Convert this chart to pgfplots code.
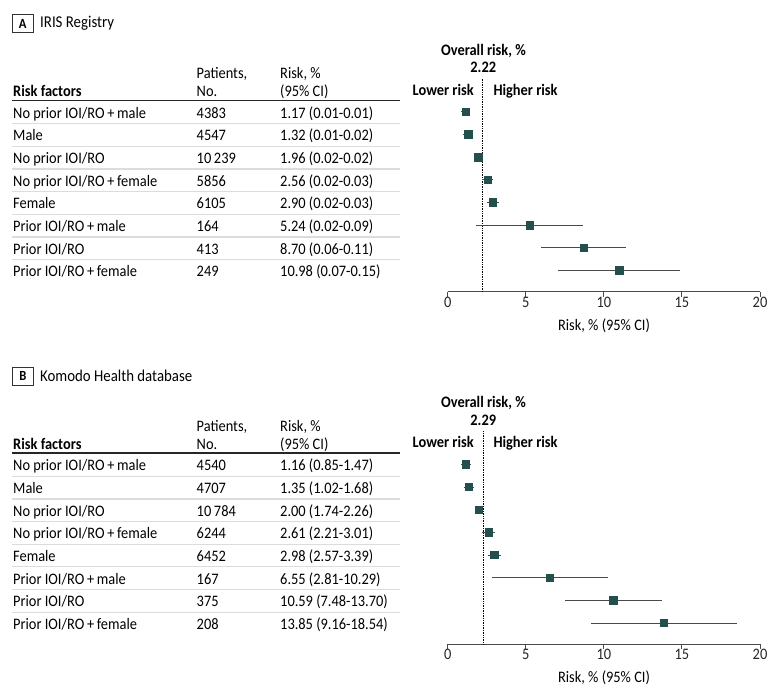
\documentclass[border=0pt]{standalone}
\usepackage{pgfplots}
\pgfplotsset{compat=1.18}
\usepackage{pgfplotstable}
\usepackage{fontspec}
\setmainfont{Carlito}[FakeStretch=0.9]
\setsansfont{Carlito}[FakeStretch=0.9]

\definecolor{sq}{HTML}{23504D}
\definecolor{wh}{HTML}{4A4A4A}
\definecolor{sepc}{HTML}{DDDDD8}

% row: y (9 - row), risk, lower, upper
\pgfplotstableread{
y x lo hi
8 1.17 0.85 1.45
7 1.32 1.00 1.62
6 1.96 1.75 2.20
5 2.56 2.18 2.93
4 2.90 2.50 3.29
3 5.24 1.80 8.65
2 8.70 6.00 11.43
1 10.98 7.09 14.90
}\dataA

\pgfplotstableread{
y x lo hi
8 1.16 0.85 1.47
7 1.35 1.02 1.68
6 2.00 1.74 2.26
5 2.61 2.21 3.01
4 2.98 2.57 3.39
3 6.55 2.81 10.29
2 10.59 7.48 13.70
1 13.85 9.16 18.54
}\dataB

\newcommand\nfs{\fontsize{16}{18}\selectfont}
\newcommand\bfs{\bfseries\fontsize{16}{18}\selectfont}

\pgfplotsset{forest/.style={
  scale only axis, width=312.3pt, height=214pt,
  anchor=south west,
  xmin=0, xmax=20, ymin=0.06, ymax=9.5,
  axis x line=bottom, axis y line=none,
  x axis line style={-, color=wh, line width=0.9pt},
  xtick={0,5,10,15,20}, ytick=\empty,
  tick align=outside, major tick length=5pt,
  x tick style={color=wh, line width=0.9pt},
  xticklabel style={font=\nfs, text=black!85},
  /pgf/number format/assume math mode=true,
  clip=false,
}}

\newcommand\ior{IOI/RO}
\newcommand\row[4]{%
  \node[anchor=base west] at (13,{118.3+(#1-1)*22.66}) {#2};
  \node[anchor=base west] at (196.5,{118.3+(#1-1)*22.66}) {#3};
  \node[anchor=base west] at (280,{118.3+(#1-1)*22.66}) {#4};}

\newcommand\header[3]{%
  \node[draw=black!80, line width=0.8pt, minimum width=21pt, minimum height=18pt, inner sep=0pt, font=\bfseries\fontsize{14}{16}\selectfont] at (22.8,23.5) {#1};
  \node[anchor=west, font=\fontsize{16.5}{18}\selectfont] at (40,23.5) {#2};
  \node[anchor=base west,font=\bfs] at (13,96.5) {Risk factors};
  \node[anchor=base west] at (196.5,78.7) {Patients,};
  \node[anchor=base west] at (196.5,96.5) {No.};
  \node[anchor=base west] at (280,78.7) {Risk, \%};
  \node[anchor=base west] at (280,96.5) {(95\% CI)};
  \draw[line width=1.5pt, black!85] (12,100.3) -- (400,100.3);
  \foreach \i in {1,...,7} \draw[sepc, line width=1.3pt] (12,{123.6+(\i-1)*22.66}) -- (400,{123.6+(\i-1)*22.66});
  \node[anchor=base, font=\bfs] at (483.5,55) {Overall risk, \%};
  \node[anchor=base, font=\bfs] at (483.3,72.7) {#3};
  \node[anchor=base east, font=\bfs] at (474,95) {Lower risk};
  \node[anchor=base west, font=\bfs] at (493.3,95) {Higher risk};
  \node[anchor=base] at (604,330) {Risk, \% (95\% CI)};}

\begin{document}
\begin{tikzpicture}[font=\nfs, every node/.style={inner sep=0pt}]
\begin{scope}[x=1pt,y=-1pt]
  \fill[white] (0,0) rectangle (780,697);
  \path[use as bounding box] (0,0) rectangle (780,697);
\end{scope}

% ---------- Panel A ----------
\begin{scope}[x=1pt,y=-1pt]
  \header{A}{IRIS Registry}{2.22}
  \row{1}{No prior \ior\,+\,male}{4383}{1.17 (0.01-0.01)}
  \row{2}{Male}{4547}{1.32 (0.01-0.02)}
  \row{3}{No prior \ior}{10\,239}{1.96 (0.02-0.02)}
  \row{4}{No prior \ior\,+\,female}{5856}{2.56 (0.02-0.03)}
  \row{5}{Female}{6105}{2.90 (0.02-0.03)}
  \row{6}{Prior \ior\,+\,male}{164}{5.24 (0.02-0.09)}
  \row{7}{Prior \ior}{413}{8.70 (0.06-0.11)}
  \row{8}{Prior \ior\,+\,female}{249}{10.98 (0.07-0.15)}
\end{scope}

\begin{axis}[forest, at={(447.7pt,-291.7pt)}]
  \addplot[densely dotted, black, line width=0.7pt] coordinates {(2.22,0.06) (2.22,9.5)};
  \addplot[only marks, mark=square*, mark size=3.7pt,
    mark options={fill=sq, draw=sq, line width=0.4pt},
    error bars/.cd, x dir=both, x explicit, error mark=none,
    error bar style={color=wh, line width=0.9pt}]
    table[x=x, y=y, x error minus expr=\thisrow{x}-\thisrow{lo}, x error plus expr=\thisrow{hi}-\thisrow{x}] {\dataA};
\end{axis}

% ---------- Panel B ----------
\begin{scope}[x=1pt,y=-1pt,yshift=-352.6pt]
  \header{B}{Komodo Health database}{2.29}
  \row{1}{No prior \ior\,+\,male}{4540}{1.16 (0.85-1.47)}
  \row{2}{Male}{4707}{1.35 (1.02-1.68)}
  \row{3}{No prior \ior}{10\,784}{2.00 (1.74-2.26)}
  \row{4}{No prior \ior\,+\,female}{6244}{2.61 (2.21-3.01)}
  \row{5}{Female}{6452}{2.98 (2.57-3.39)}
  \row{6}{Prior \ior\,+\,male}{167}{6.55 (2.81-10.29)}
  \row{7}{Prior \ior}{375}{10.59 (7.48-13.70)}
  \row{8}{Prior \ior\,+\,female}{208}{13.85 (9.16-18.54)}
\end{scope}

\begin{axis}[forest, at={(447.7pt,-644.3pt)}]
  \addplot[densely dotted, black, line width=0.7pt] coordinates {(2.29,0.06) (2.29,9.5)};
  \addplot[only marks, mark=square*, mark size=3.7pt,
    mark options={fill=sq, draw=sq, line width=0.4pt},
    error bars/.cd, x dir=both, x explicit, error mark=none,
    error bar style={color=wh, line width=0.9pt}]
    table[x=x, y=y, x error minus expr=\thisrow{x}-\thisrow{lo}, x error plus expr=\thisrow{hi}-\thisrow{x}] {\dataB};
\end{axis}
\end{tikzpicture}
\end{document}
